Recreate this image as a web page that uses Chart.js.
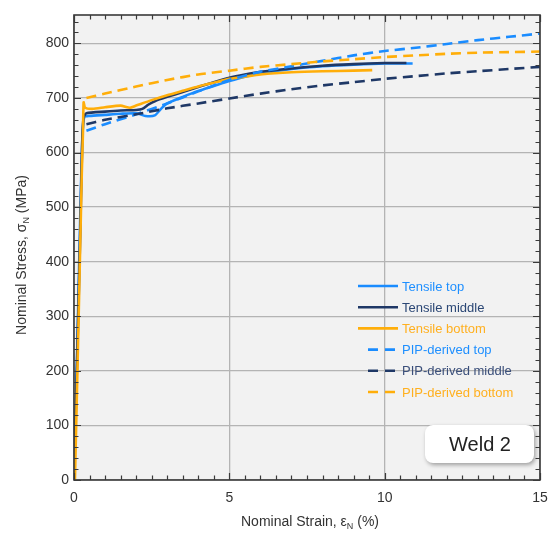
<!DOCTYPE html>
<html>
<head>
<meta charset="utf-8">
<script src="https://cdn.jsdelivr.net/npm/chart.js@4.4.1/dist/chart.umd.min.js"></script>
<style>
html,body{margin:0;padding:0;background:#fff;}
#c{display:block;}
</style>
</head>
<body>
<canvas id="c" width="551" height="533"></canvas>
<script>
// ---- Data (strain in %, stress in MPa) ----
const tensileTopStrain   = [0, 0.1, 0.2, 0.27, 0.33, 0.5, 1.0, 1.5, 2.0, 2.3, 2.6, 2.8, 3.0, 3.5, 4.0, 4.5, 5.0, 5.5, 6.0, 7.0, 8.0, 9.0, 10.0, 10.9];
const tensileTopStress   = [0, 230, 480, 630, 665, 667, 669, 671, 672, 667, 668, 680, 690, 702, 713, 722, 731, 739, 745, 753, 758, 761, 763, 763];

const tensileMidStrain   = [0, 0.1, 0.2, 0.26, 0.31, 0.4, 1.0, 1.5, 2.0, 2.2, 2.4, 2.6, 3.0, 3.5, 4.0, 4.5, 5.0, 5.5, 6.0, 7.0, 8.0, 9.0, 10.0, 10.7];
const tensileMidStress   = [0, 220, 450, 610, 665, 672, 675, 677, 678, 680, 688, 694, 702, 711, 720, 729, 737, 743, 748, 754, 759, 762, 764, 764];

const tensileBotStrain   = [0.03, 0.15, 0.25, 0.29, 0.31, 0.36, 0.6, 1.0, 1.5, 1.8, 2.0, 2.5, 3.0, 3.5, 4.0, 4.5, 5.0, 5.5, 6.0, 7.0, 8.0, 9.0, 9.6];
const tensileBotStress   = [0, 300, 560, 640, 692, 682, 680, 683, 686, 682, 686, 696, 705, 713, 721, 728, 735, 739, 743, 747, 749, 750, 751];

const pipTopStrain       = [0.4, 1, 2, 3, 4, 5, 6, 7, 8, 9, 10, 11, 12, 13, 14, 15];
const pipTopStress       = [640, 652, 670, 690, 712, 733, 748, 758, 768, 778, 786, 792, 799, 806, 812, 818];

const pipMidStrain       = [0.4, 1, 2, 3, 4, 5, 6, 7, 8, 9, 10, 11, 12, 13, 14, 15];
const pipMidStress       = [652, 660, 670, 681, 690, 699, 708, 716, 723, 729, 735, 740, 745, 749, 753, 757];

const pipBotStrain       = [0.4, 1, 2, 3, 4, 5, 6, 7, 8, 9, 10, 11, 12, 13, 14, 15];
const pipBotStress       = [700, 708, 721, 733, 743, 750, 757, 762, 767, 771, 775, 778, 781, 783, 784, 785];

const seriesNames = ["Tensile top", "Tensile middle", "Tensile bottom", "PIP-derived top", "PIP-derived middle", "PIP-derived bottom"];
const xTickValues = [0, 5, 10, 15];
const yTickValues = [0, 100, 200, 300, 400, 500, 600, 700, 800];

// ---- Styles ----
const BLUE = '#1a8cff', NAVY = '#1f3866', ORANGE = '#ffae0a';
const legendTextColors = ['#1e8fff', '#2b4775', '#ffb020', '#1e8fff', '#3b4f7a', '#ffb020'];
const FONT = '"Liberation Sans", Arial, Helvetica, sans-serif';

function pts(xs, ys){ return xs.map((x,i)=>({x:x, y:ys[i]})); }

const seriesDefs = [
  {x: tensileTopStrain, y: tensileTopStress, color: BLUE, dash: []},
  {x: tensileMidStrain, y: tensileMidStress, color: NAVY, dash: []},
  {x: tensileBotStrain, y: tensileBotStress, color: ORANGE, dash: []},
  {x: pipTopStrain, y: pipTopStress, color: BLUE, dash: [10,6]},
  {x: pipMidStrain, y: pipMidStress, color: NAVY, dash: [10,6]},
  {x: pipBotStrain, y: pipBotStress, color: ORANGE, dash: [10,6]},
];

const datasets = seriesDefs.map((s,i)=>({
  label: seriesNames[i],
  data: pts(s.x, s.y),
  borderColor: s.color,
  backgroundColor: s.color,
  borderDash: s.dash,
  borderWidth: 2.6,
  pointRadius: 0,
  showLine: true,
  fill: false,
  tension: 0.2,
  order: 6 - i
}));

const decor = {
  id: 'decor',
  beforeDraw(chart){
    const {ctx, chartArea:a} = chart;
    ctx.save();
    ctx.fillStyle = '#f2f2f2';
    ctx.fillRect(a.left, a.top, a.right-a.left, a.bottom-a.top);
    ctx.restore();
  },
  afterDatasetsDraw(chart){
    const {ctx, chartArea:a, scales} = chart;
    const xs = scales.x, ys = scales.y;
    ctx.save();
    // frame
    ctx.strokeStyle = '#3a3a3a';
    ctx.lineWidth = 1.6;
    ctx.strokeRect(a.left, a.top, a.right-a.left, a.bottom-a.top);
    // ticks
    ctx.lineWidth = 1.2;
    ctx.beginPath();
    for (let v = 0; v <= 15.001; v += 0.5) {
      const px = Math.round(xs.getPixelForValue(v)) + 0.5;
      const major = Math.abs(v % 5) < 1e-6;
      const L = major ? 7 : 4.5;
      ctx.moveTo(px, a.bottom); ctx.lineTo(px, a.bottom - L);
      ctx.moveTo(px, a.top); ctx.lineTo(px, a.top + L);
    }
    for (let v = 0; v <= 850; v += 20) {
      const py = Math.round(ys.getPixelForValue(v)) + 0.5;
      const major = v % 100 === 0;
      const L = major ? 7 : 4.5;
      ctx.moveTo(a.left, py); ctx.lineTo(a.left + L, py);
      ctx.moveTo(a.right, py); ctx.lineTo(a.right - L, py);
    }
    ctx.stroke();

    // legend
    const lx0 = 358, lx1 = 398, tx = 402;
    const ly0 = 286, lstep = 21.2;
    ctx.font = '13px ' + FONT;
    ctx.textBaseline = 'middle';
    ctx.textAlign = 'left';
    seriesDefs.forEach((s,i)=>{
      const y = ly0 + i*lstep;
      ctx.strokeStyle = s.color;
      ctx.lineWidth = 2.6;
      ctx.setLineDash([]);
      ctx.beginPath();
      if (s.dash.length) {
        ctx.moveTo(368, y); ctx.lineTo(378, y);
        ctx.moveTo(385, y); ctx.lineTo(395, y);
      } else {
        ctx.moveTo(lx0, y); ctx.lineTo(lx1, y);
      }
      ctx.stroke();
      ctx.fillStyle = legendTextColors[i];
      ctx.fillText(seriesNames[i], tx, y + 1);
    });

    // Weld 2 box
    ctx.save();
    ctx.shadowColor = 'rgba(0,0,0,0.35)';
    ctx.shadowBlur = 4;
    ctx.shadowOffsetX = 1.5;
    ctx.shadowOffsetY = 2;
    ctx.fillStyle = '#ffffff';
    ctx.beginPath();
    ctx.roundRect(425, 425, 109, 38, 8);
    ctx.fill();
    ctx.restore();
    ctx.fillStyle = '#222';
    ctx.font = '20px ' + FONT;
    ctx.textAlign = 'center';
    ctx.textBaseline = 'middle';
    ctx.fillText('Weld 2', 480, 445);

    // axis titles with subscripts
    function subTitle(parts, cx, cy) {
      ctx.textBaseline = 'middle';
      ctx.textAlign = 'left';
      const main = '14px ' + FONT, sub = '9px ' + FONT;
      let w = 0;
      parts.forEach(p=>{ ctx.font = p.sub ? sub : main; w += ctx.measureText(p.t).width; });
      let x = cx - w/2;
      parts.forEach(p=>{
        ctx.font = p.sub ? sub : main;
        ctx.fillText(p.t, x, cy + (p.sub ? 5 : 0));
        x += ctx.measureText(p.t).width;
      });
    }
    ctx.fillStyle = '#333';
    subTitle([{t:'Nominal Strain, ε'},{t:'N',sub:true},{t:' (%)'}], 310, 522);
    ctx.save();
    ctx.translate(22, 255);
    ctx.rotate(-Math.PI/2);
    subTitle([{t:'Nominal Stress, σ'},{t:'N',sub:true},{t:' (MPa)'}], 0, 0);
    ctx.restore();

    ctx.restore();
  }
};

new Chart(document.getElementById('c'), {
  type: 'scatter',
  data: { datasets },
  options: {
    responsive: false,
    animation: false,
    devicePixelRatio: 1,
    layout: { padding: { left: 0, top: 15, right: 11, bottom: 0 } },
    plugins: { legend: { display: false }, tooltip: { enabled: false } },
    scales: {
      x: {
        type: 'linear', min: 0, max: 15,
        afterBuildTicks: s => { s.ticks = xTickValues.map(v=>({value:v})); },
        afterFit: s => { s.height = 53; s.paddingRight = 0; s.paddingLeft = 0; },
        border: { display: false },
        grid: { color: '#b4b4b4', lineWidth: 1.3, drawTicks: false },
        ticks: { color: '#333', font: { family: FONT, size: 14 }, padding: 10, maxRotation: 0 }
      },
      y: {
        type: 'linear', min: 0, max: 852,
        afterBuildTicks: s => { s.ticks = yTickValues.map(v=>({value:v})); },
        afterFit: s => { s.width = 74; s.paddingTop = 0; s.paddingBottom = 0; },
        border: { display: false },
        grid: { color: '#b4b4b4', lineWidth: 1.3, drawTicks: false },
        ticks: { color: '#333', font: { family: FONT, size: 14 }, padding: 5 }
      }
    }
  },
  plugins: [decor]
});
</script>
</body>
</html>
